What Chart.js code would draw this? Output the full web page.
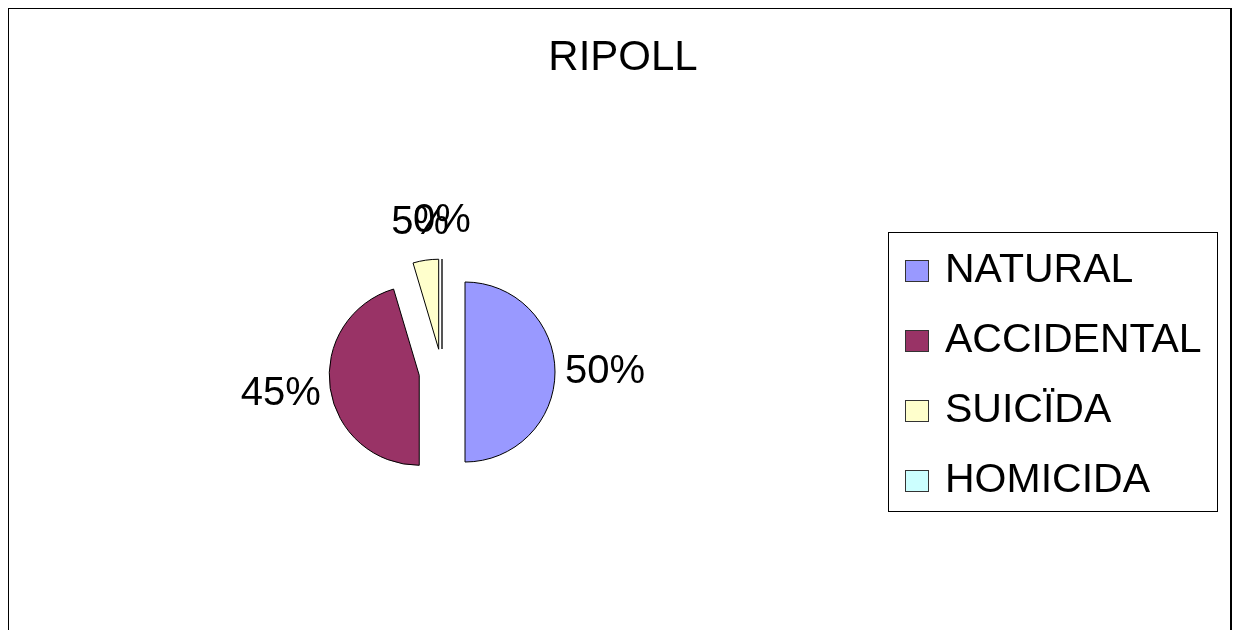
<!DOCTYPE html>
<html>
<head>
<meta charset="utf-8">
<title>RIPOLL</title>
<script src="https://cdn.jsdelivr.net/npm/chart.js@4.4.1/dist/chart.umd.min.js"></script>
<style>
    body { margin: 0; background: #fff; overflow: hidden; }
    #frame { position: absolute; left: 8px; top: 8px; width: 1221px; height: 700px; border: 1px solid #000; border-right-width: 2px; }
    #wrap { position: absolute; left: 0; top: 0; width: 1237px; height: 630px; }
</style>
</head>
<body>
<div id="frame"></div>
<div id="wrap"><canvas id="pieChart" width="1237" height="630"></canvas></div>
<script>
const chartTitle = 'RIPOLL';
const categories = ['NATURAL', 'ACCIDENTAL', 'SUICÏDA', 'HOMICIDA'];
// shares; labels show them rounded
const percentages = [50, 45.4, 4.6, 0];
const sliceColors = ['#9999FF', '#993366', '#FFFFCC', '#CCFFFF'];

const FONT = '"Liberation Sans", Arial, sans-serif';
const PIE_RADIUS = 90;
const EXPLODE = 23; // visible shift of every slice (chart.js divides offset by 4)

// chart.js grows and narrows exploded slices a bit, undo that so they keep their real shape
const keepShape = {
    id: 'keepShape',
    beforeDatasetsDraw(chart) {
        chart.getDatasetMeta(0).data.forEach(arc => {
            if (arc.circumference === 0) return;
            if (arc.baseStart === undefined) {
                arc.baseStart = arc.startAngle;
                arc.baseEnd = arc.endAngle;
            }
            const fix = 1 - Math.sin(Math.min(Math.PI, arc.circumference));
            const grow = EXPLODE * fix;
            const widen = grow / Math.PI / PIE_RADIUS / 2;
            arc.outerRadius = PIE_RADIUS - grow;
            arc.startAngle = arc.baseStart - widen;
            arc.endAngle = arc.baseEnd + widen;
        });
    }
};

// percent labels outside the slices, plus the empty slice drawn as a line
const sliceLabels = {
    id: 'sliceLabels',
    afterDatasetsDraw(chart) {
        const ctx = chart.ctx;
        const data = chart.data.datasets[0].data;
        ctx.save();
        chart.getDatasetMeta(0).data.forEach((arc, i) => {
            const mid = (arc.startAngle + arc.endAngle) / 2;
            const dx = Math.cos(mid), dy = Math.sin(mid);

            if (arc.circumference === 0) {
                ctx.strokeStyle = '#555';
                ctx.lineWidth = 2;
                ctx.beginPath();
                ctx.moveTo(arc.x + dx * EXPLODE, arc.y + dy * EXPLODE);
                ctx.lineTo(arc.x + dx * (EXPLODE + PIE_RADIUS), arc.y + dy * (EXPLODE + PIE_RADIUS));
                ctx.stroke();
            }

            const text = Math.round(data[i]) + '%';
            ctx.font = '40px ' + FONT;
            ctx.fillStyle = '#000';
            ctx.textAlign = 'center';
            ctx.textBaseline = 'alphabetic';
            const w = ctx.measureText(text).width;
            const capH = 28;
            const dist = PIE_RADIUS + EXPLODE + 10;
            const x = arc.x + dx * dist + dx * w / 2;
            const y = arc.y + dy * dist + dy * capH;
            ctx.fillText(text, x, y + capH / 2 - 3);
        });
        ctx.restore();
    }
};

// title and boxed legend
const decorations = {
    id: 'decorations',
    afterDraw(chart) {
        const ctx = chart.ctx;
        ctx.save();
        ctx.fillStyle = '#000';
        ctx.textAlign = 'center';
        ctx.textBaseline = 'alphabetic';
        ctx.font = '42px ' + FONT;
        ctx.fillText(chartTitle, 623, 70);

        ctx.strokeStyle = '#000';
        ctx.lineWidth = 1;
        ctx.strokeRect(888.5, 232.5, 329, 279);

        ctx.textAlign = 'left';
        ctx.font = '41px ' + FONT;
        categories.forEach((name, i) => {
            const base = 282 + i * 70;
            ctx.fillStyle = sliceColors[i];
            ctx.fillRect(905, base - 22, 24, 22);
            ctx.strokeStyle = '#333';
            ctx.strokeRect(905.5, base - 21.5, 23, 21);
            ctx.fillStyle = '#000';
            ctx.fillText(name, 945, base);
        });
        ctx.restore();
    }
};

new Chart(document.getElementById('pieChart'), {
    type: 'pie',
    data: {
        labels: categories,
        datasets: [{
            data: percentages,
            backgroundColor: sliceColors,
            borderColor: '#000',
            borderWidth: 1,
            offset: EXPLODE * 4
        }]
    },
    options: {
        responsive: false,
        animation: false,
        events: [],
        radius: PIE_RADIUS,
        layout: { padding: { left: 292, right: 645, top: 222, bottom: 108 } },
        plugins: {
            legend: { display: false },
            title: { display: false },
            tooltip: { enabled: false }
        }
    },
    plugins: [keepShape, sliceLabels, decorations]
});
</script>
</body>
</html>
